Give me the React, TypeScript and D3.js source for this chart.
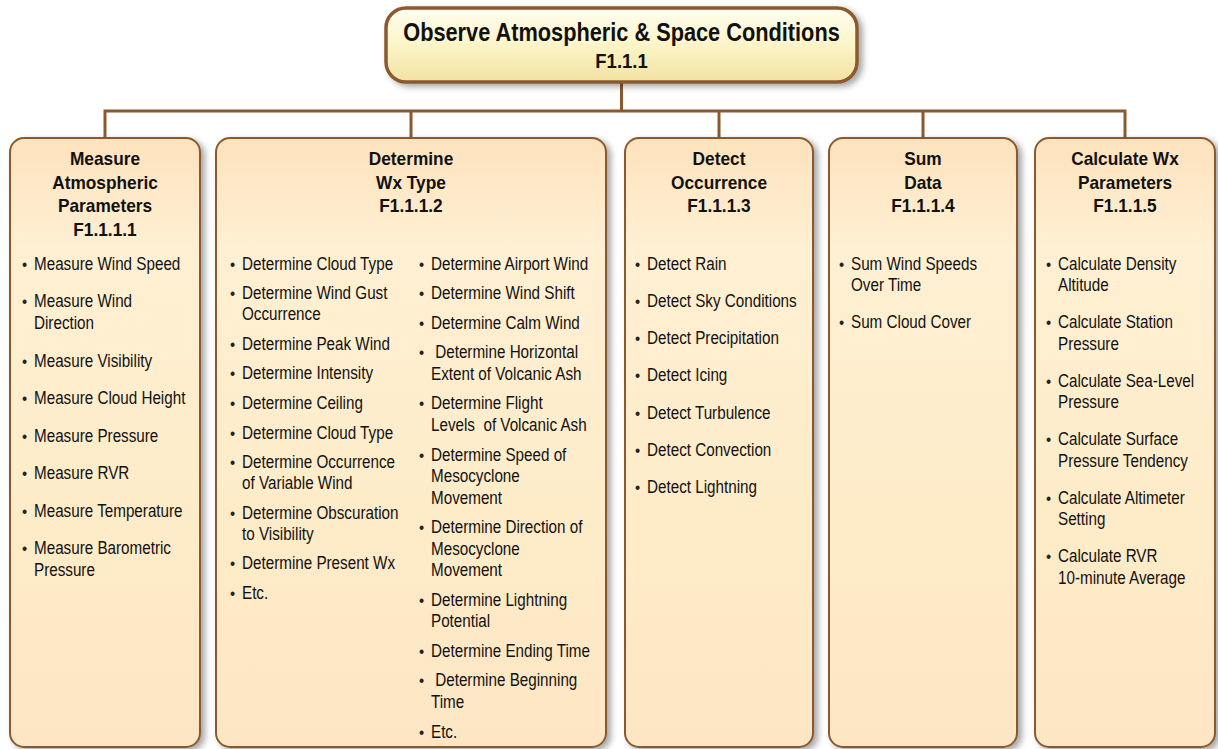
import React from "react";
import * as d3 from "d3";

const rootTitle = "Observe Atmospheric & Space Conditions";
const rootCode = "F1.1.1";

const boxTitles: string[][] = [
  ["Measure", "Atmospheric", "Parameters"],
  ["Determine", "Wx Type"],
  ["Detect", "Occurrence"],
  ["Sum", "Data"],
  ["Calculate Wx", "Parameters"],
];
const boxCodes = ["F1.1.1.1", "F1.1.1.2", "F1.1.1.3", "F1.1.1.4", "F1.1.1.5"];

const measureItems: string[][] = [
  ["Measure Wind Speed"],
  ["Measure Wind", "Direction"],
  ["Measure Visibility"],
  ["Measure Cloud Height"],
  ["Measure Pressure"],
  ["Measure RVR"],
  ["Measure Temperature"],
  ["Measure Barometric", "Pressure"],
];
const determineItemsA: string[][] = [
  ["Determine Cloud Type"],
  ["Determine Wind Gust", "Occurrence"],
  ["Determine Peak Wind"],
  ["Determine Intensity"],
  ["Determine Ceiling"],
  ["Determine Cloud Type"],
  ["Determine Occurrence", "of Variable Wind"],
  ["Determine Obscuration", "to Visibility"],
  ["Determine Present Wx"],
  ["Etc."],
];
const determineItemsB: string[][] = [
  ["Determine Airport Wind"],
  ["Determine Wind Shift"],
  ["Determine Calm Wind"],
  [" Determine Horizontal", "Extent of Volcanic Ash"],
  ["Determine Flight", "Levels  of Volcanic Ash"],
  ["Determine Speed of", "Mesocyclone", "Movement"],
  ["Determine Direction of", "Mesocyclone", "Movement"],
  ["Determine Lightning", "Potential"],
  ["Determine Ending Time"],
  [" Determine Beginning", "Time"],
  ["Etc."],
];
const detectItems: string[][] = [
  ["Detect Rain"],
  ["Detect Sky Conditions"],
  ["Detect Precipitation"],
  ["Detect Icing"],
  ["Detect Turbulence"],
  ["Detect Convection"],
  ["Detect Lightning"],
];
const sumItems: string[][] = [["Sum Wind Speeds", "Over Time"], ["Sum Cloud Cover"]];
const calcItems: string[][] = [
  ["Calculate Density", "Altitude"],
  ["Calculate Station", "Pressure"],
  ["Calculate Sea-Level", "Pressure"],
  ["Calculate Surface", "Pressure Tendency"],
  ["Calculate Altimeter", "Setting"],
  ["Calculate RVR", "10-minute Average"],
];

// layout
const W = 1218;
const H = 749;
const FONT = "'Liberation Sans', Arial, Helvetica, sans-serif";
const SX = 0.87;
const boxLayout = [
  { x0: 10, x1: 200 },
  { x0: 216, x1: 606 },
  { x0: 625, x1: 813 },
  { x0: 829, x1: 1017 },
  { x0: 1035, x1: 1215 },
];
const columns = [
  { box: 0, items: measureItems, bx: 22, step: 37.5, gap: 22 },
  { box: 1, items: determineItemsA, bx: 230, step: 29.6, gap: 21 },
  { box: 1, items: determineItemsB, bx: 419, step: 29.6, gap: 21.5 },
  { box: 2, items: detectItems, bx: 635, step: 37.3, gap: 22 },
  { box: 3, items: sumItems, bx: 839, step: 37, gap: 21.5 },
  { box: 4, items: calcItems, bx: 1046, step: 37, gap: 21.5 },
];

const brown = "#8a5a2e";

function layoutColumn(items: string[][], step: number, gap: number, start: number) {
  const out: { text: string; y: number; first: boolean }[] = [];
  let y = start;
  items.forEach((lines) => {
    lines.forEach((t, i) => {
      out.push({ text: t, y: y + i * gap, first: i === 0 });
    });
    y += (lines.length - 1) * gap + step;
  });
  return out;
}

export default function App() {
  const top = { x0: 386, x1: 857, y0: 8, y1: 82 };
  const busY = 111;
  const boxTop = 138;
  const boxBottom = 747;
  const centers = boxLayout.map((b) => (b.x0 + b.x1) / 2);
  const xs = d3.scaleLinear().domain([0, W]).range([0, W]);
  const cx = (top.x0 + top.x1) / 2;

  const p = d3.path();
  p.moveTo(xs(cx), top.y1);
  p.lineTo(xs(cx), busY);
  p.moveTo(xs(centers[0]), boxTop);
  p.lineTo(xs(centers[0]), busY);
  p.lineTo(xs(centers[centers.length - 1]), busY);
  p.lineTo(xs(centers[centers.length - 1]), boxTop);
  centers.slice(1, -1).forEach((c) => {
    p.moveTo(xs(c), busY);
    p.lineTo(xs(c), boxTop);
  });

  return (
    <svg
      width={W}
      height={H}
      style={{ position: "absolute", left: 0, top: 0, background: "#fff" }}
      fontFamily={FONT}
    >
      <defs>
        <linearGradient id="topFill" x1="0" y1="0" x2="0" y2="1">
          <stop offset="0" stopColor="#fffef0" />
          <stop offset="0.45" stopColor="#fdf6cc" />
          <stop offset="1" stopColor="#f2e2a2" />
        </linearGradient>
        <linearGradient id="boxFill" x1="0" y1="0" x2="0" y2="1">
          <stop offset="0" stopColor="#fde2bd" />
          <stop offset="0.18" stopColor="#fff0d3" />
          <stop offset="0.6" stopColor="#feecc9" />
          <stop offset="1" stopColor="#fde6c3" />
        </linearGradient>
        <filter id="shadow" x="-10%" y="-10%" width="130%" height="130%">
          <feDropShadow dx="4" dy="3" stdDeviation="3" floodColor="#000" floodOpacity="0.35" />
        </filter>
      </defs>

      <path d={p.toString()} fill="none" stroke={brown} strokeWidth={3} />

      <rect
        x={xs(top.x0)}
        y={top.y0}
        width={xs(top.x1) - xs(top.x0)}
        height={top.y1 - top.y0}
        rx={20}
        fill="url(#topFill)"
        stroke={brown}
        strokeWidth={3.5}
        filter="url(#shadow)"
      />
      <text
        transform={`translate(${cx},41) scale(0.87,1)`}
        textAnchor="middle"
        fontWeight="bold"
        fontSize={25}
        fill="#111"
      >
        {rootTitle}
      </text>
      <text
        transform={`translate(${cx},68) scale(0.9,1)`}
        textAnchor="middle"
        fontWeight="bold"
        fontSize={20.5}
        fill="#111"
      >
        {rootCode}
      </text>

      {boxLayout.map((b, i) => {
        const c = centers[i];
        const lines = [...boxTitles[i], boxCodes[i]];
        return (
          <g key={i}>
            <rect
              x={xs(b.x0)}
              y={boxTop}
              width={xs(b.x1) - xs(b.x0)}
              height={boxBottom - boxTop}
              rx={14}
              fill="url(#boxFill)"
              stroke={brown}
              strokeWidth={2}
              filter="url(#shadow)"
            />
            {lines.map((t, j) => (
              <text
                key={j}
                transform={`translate(${c},${165 + j * 23.7}) scale(0.92,1)`}
                textAnchor="middle"
                fontWeight="bold"
                fontSize={18.8}
                fill="#111"
              >
                {t}
              </text>
            ))}
          </g>
        );
      })}

      {columns.map((col, ci) => {
        const rows = layoutColumn(col.items, col.step, col.gap, 269.5);
        return (
          <g key={ci}>
            {rows.map((r, k) => (
              <g key={k}>
                {r.first && (
                  <text
                    transform={`translate(${col.bx},${r.y}) scale(${SX},1)`}
                    fontSize={17}
                    fill="#222"
                  >
                    •
                  </text>
                )}
                <text
                  transform={`translate(${col.bx + 12},${r.y}) scale(${SX},1)`}
                  fontSize={17.5}
                  fill="#111"
                  style={{ whiteSpace: "pre" }}
                >
                  {r.text}
                </text>
              </g>
            ))}
          </g>
        );
      })}
    </svg>
  );
}
